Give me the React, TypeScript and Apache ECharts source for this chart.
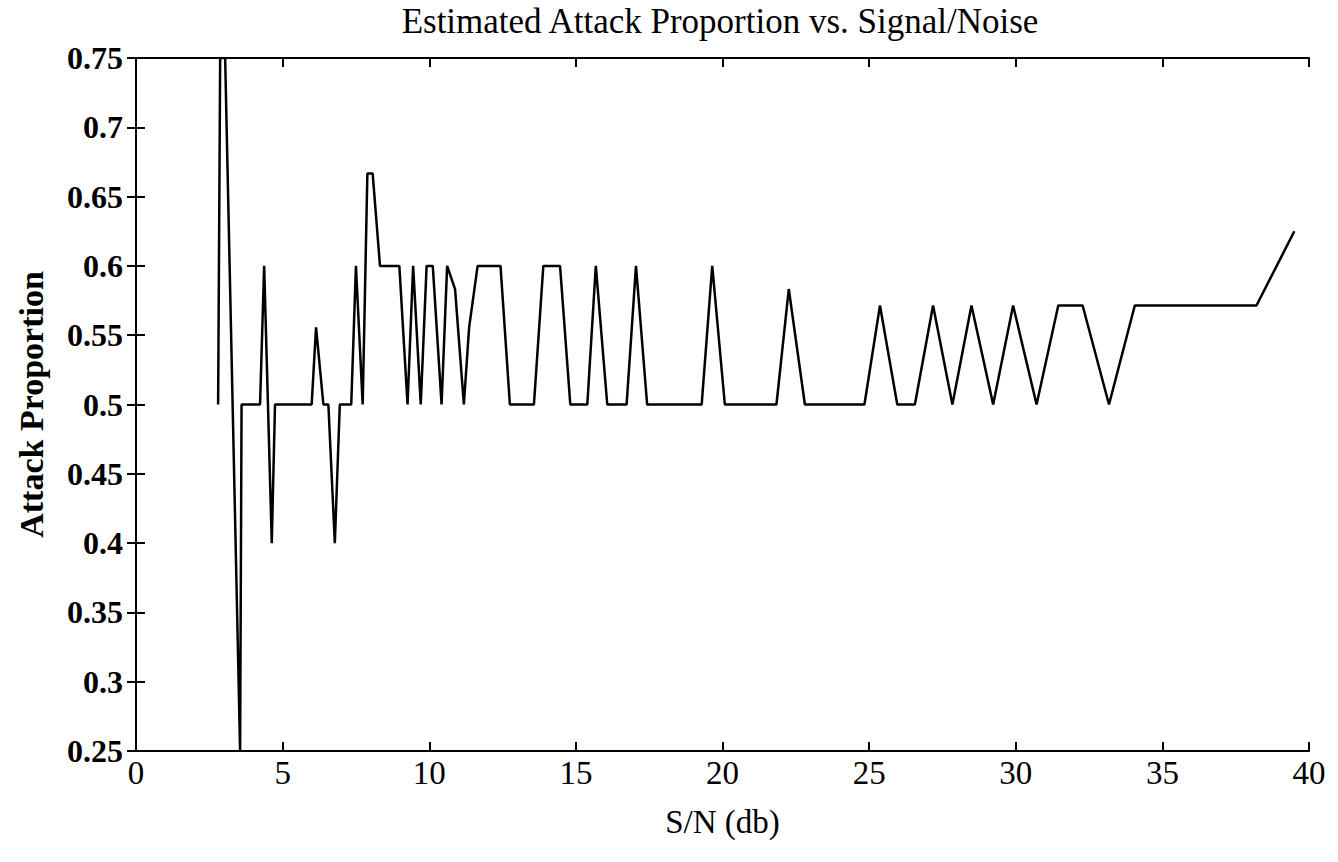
import React, { useEffect, useRef } from "react";
import * as echarts from "echarts";

const snrDb = [
  2.8, 2.87, 3.04, 3.55, 3.6, 4.23, 4.37, 4.63, 4.74, 5.99, 6.14, 6.39, 6.56, 6.78, 6.95, 7.34,
  7.5, 7.73, 7.89, 8.07, 8.32, 8.98, 9.26, 9.45, 9.71, 9.91, 10.12, 10.42, 10.61, 10.88, 11.18,
  11.36, 11.65, 12.43, 12.75, 13.57, 13.89, 14.46, 14.81, 15.39, 15.68, 16.07, 16.73, 17.05,
  17.43, 19.29, 19.65, 20.08, 21.84, 22.26, 22.81, 24.84, 25.37, 25.96, 26.56, 27.18, 27.84,
  28.49, 29.23, 29.91, 30.71, 31.45, 32.28, 33.18, 34.06, 38.21, 39.5,
];

const attackProportion = [
  0.5, 0.75, 0.75, 0.25, 0.5, 0.5, 0.6, 0.4, 0.5, 0.5, 0.5556, 0.5, 0.5, 0.4, 0.5, 0.5,
  0.6, 0.5, 0.6667, 0.6667, 0.6, 0.6, 0.5, 0.6, 0.5, 0.6, 0.6, 0.5, 0.6, 0.5833, 0.5,
  0.5556, 0.6, 0.6, 0.5, 0.5, 0.6, 0.6, 0.5, 0.5, 0.6, 0.5, 0.5, 0.6,
  0.5, 0.5, 0.6, 0.5, 0.5, 0.5833, 0.5, 0.5, 0.5714, 0.5, 0.5, 0.5714, 0.5,
  0.5714, 0.5, 0.5714, 0.5, 0.5714, 0.5714, 0.5, 0.5714, 0.5714, 0.625,
];

const xTicks = { min: 0, max: 40, interval: 5 };
const yTicks = { min: 0.25, max: 0.75, interval: 0.05 };

const titleText = "Estimated Attack Proportion vs. Signal/Noise";
const xName = "S/N (db)";
const yName = "Attack Proportion";

const FONT = "'Liberation Serif', 'Times New Roman', serif";

export default function App() {
  const ref = useRef<HTMLDivElement>(null);

  useEffect(() => {
    if (!ref.current) return;
    const chart = echarts.init(ref.current, undefined, { renderer: "svg" });
    const data = snrDb.map((x, i) => [x, attackProportion[i]]);
    const tick = { show: true, inside: true, length: 9, lineStyle: { color: "#000", width: 2 } };
    const axisLine = { show: true, lineStyle: { color: "#000", width: 2 } };
    const yFmt = (v: number) => String(Math.round(v * 100) / 100);

    chart.setOption({
      animation: false,
      backgroundColor: "#fff",
      grid: { left: 136, right: 29, top: 58, bottom: 111, containLabel: false },
      graphic: [
        {
          type: "text",
          x: 720,
          y: 21,
          style: {
            text: titleText,
            font: `35px ${FONT}`,
            fill: "#000",
            align: "center",
            verticalAlign: "middle",
          },
        },
      ],
      xAxis: [
        {
          type: "value",
          position: "bottom",
          ...xTicks,
          name: xName,
          nameLocation: "middle",
          nameGap: 54,
          nameTextStyle: { fontFamily: FONT, fontSize: 33, color: "#000" },
          axisLine,
          axisTick: tick,
          splitLine: { show: false },
          axisLabel: { fontFamily: FONT, fontSize: 33, color: "#000", margin: 5 },
        },
        {
          type: "value",
          position: "top",
          ...xTicks,
          axisLine,
          axisTick: tick,
          splitLine: { show: false },
          axisLabel: { show: false },
        },
      ],
      yAxis: [
        {
          type: "value",
          position: "left",
          ...yTicks,
          name: yName,
          nameLocation: "middle",
          nameGap: 88,
          nameTextStyle: { fontFamily: FONT, fontSize: 34, fontWeight: "bold", color: "#000" },
          axisLine,
          axisTick: tick,
          splitLine: { show: false },
          axisLabel: {
            fontFamily: FONT,
            fontSize: 32,
            fontWeight: "bold",
            color: "#000",
            margin: 13,
            formatter: yFmt,
          },
        },
        {
          type: "value",
          position: "right",
          ...yTicks,
          axisLine,
          axisTick: tick,
          splitLine: { show: false },
          axisLabel: { show: false },
        },
      ],
      series: [
        {
          type: "line",
          xAxisIndex: 0,
          yAxisIndex: 0,
          data,
          showSymbol: false,
          symbol: "none",
          clip: true,
          lineStyle: { color: "#000", width: 2.5 },
        },
      ],
    });
    return () => chart.dispose();
  }, []);

  return (
    <div
      ref={ref}
      style={{ position: "fixed", left: 0, top: 0, width: 1338, height: 862, background: "#fff" }}
    />
  );
}
